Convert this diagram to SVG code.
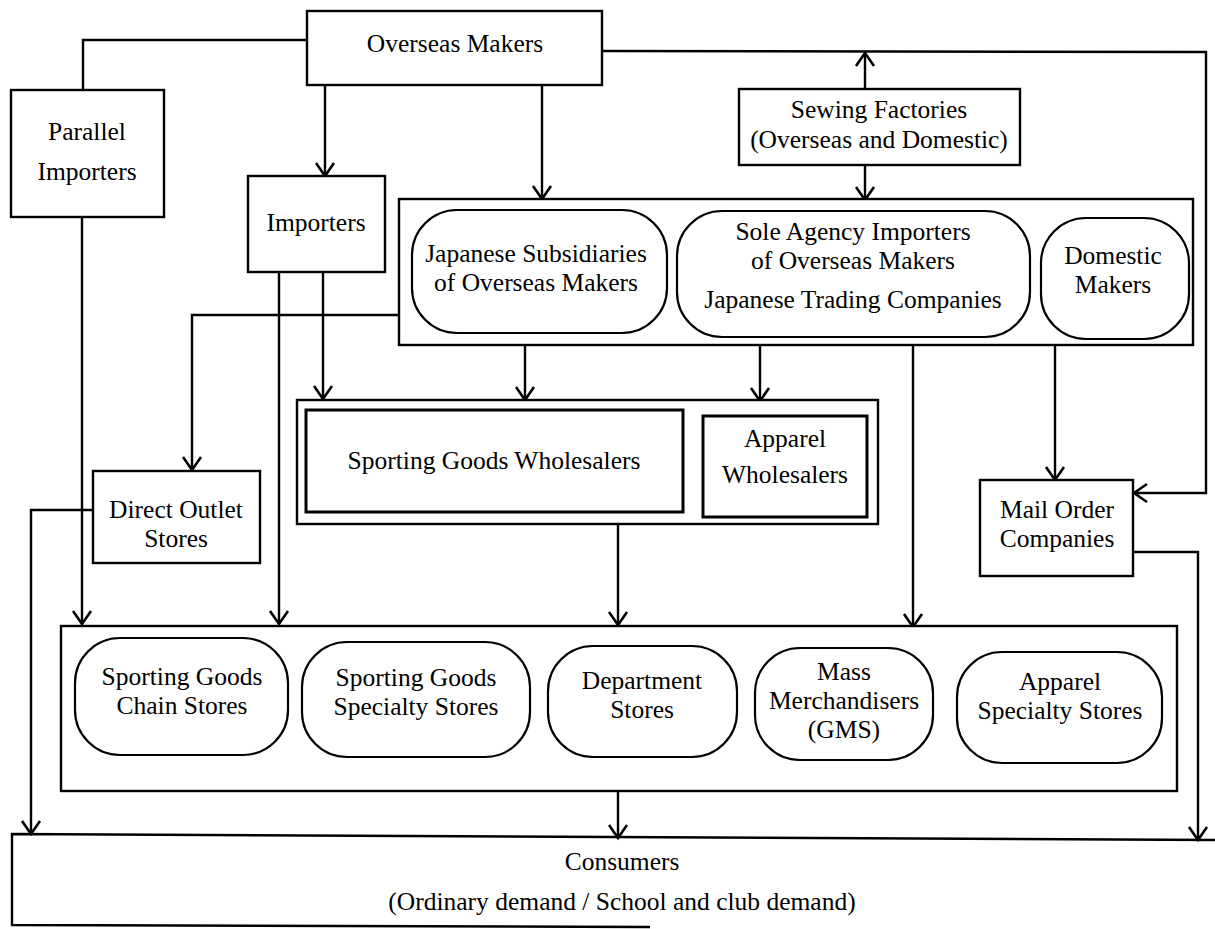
<svg xmlns="http://www.w3.org/2000/svg" width="1215" height="929" viewBox="0 0 1215 929">
<style>
.box{fill:#fff;stroke:#000;stroke-width:2.4}
.rbox{fill:#fff;stroke:#000;stroke-width:2.2}
.t{font-family:"Liberation Serif","Times New Roman",serif;font-size:25.5px;fill:#000;text-anchor:middle}
.c{fill:none;stroke:#000;stroke-width:2.4}
.a{marker-end:url(#arr)}
</style>
<defs>
<marker id="arr" markerUnits="userSpaceOnUse" markerWidth="24" markerHeight="24" refX="14" refY="10" orient="auto" viewBox="0 0 24 20">
<path d="M1,1 L14,10 L1,19" fill="none" stroke="#000" stroke-width="2.6"/>
</marker>
</defs>
<rect width="1215" height="929" fill="#fff"/>

<g id="connectors">
<polyline class="c" points="307,40 83,40 83,90"/>
<line class="c a" x1="82" y1="217" x2="82" y2="624"/>
<line class="c a" x1="325" y1="86" x2="325" y2="176"/>
<line class="c a" x1="542" y1="86" x2="542" y2="199"/>
<polyline class="c a" points="602,51 1206,52 1206,493 1134,493"/>
<line class="c a" x1="865" y1="89" x2="865" y2="53"/>
<line class="c a" x1="865" y1="165" x2="865" y2="200"/>
<line class="c a" x1="279" y1="272" x2="279" y2="624"/>
<line class="c a" x1="323" y1="272" x2="323" y2="399"/>
<polyline class="c a" points="399,315 192,315 192,470"/>
<line class="c a" x1="525" y1="345" x2="525" y2="400"/>
<line class="c a" x1="760" y1="345" x2="760" y2="401"/>
<line class="c a" x1="913" y1="346" x2="913" y2="627"/>
<line class="c a" x1="1055" y1="346" x2="1055" y2="480"/>
<line class="c a" x1="618" y1="524" x2="618" y2="625"/>
<polyline class="c a" points="93,510 31,510 31,834"/>
<polyline class="c a" points="1133,552 1198,552 1198,840"/>
<line class="c a" x1="618" y1="791" x2="618" y2="838"/>
</g>

<g id="overseas-makers">
<rect class="box" x="307" y="11" width="295" height="74"/>
<text class="t" x="455" y="52">Overseas Makers</text>
</g>

<g id="parallel-importers">
<rect class="box" x="11" y="90" width="153" height="127"/>
<text class="t" x="87" y="140">Parallel</text>
<text class="t" x="87" y="180">Importers</text>
</g>

<g id="importers">
<rect class="box" x="248" y="176" width="137" height="96"/>
<text class="t" x="316" y="231">Importers</text>
</g>

<g id="sewing-factories">
<rect class="box" x="739" y="89" width="281" height="76"/>
<text class="t" x="879" y="118">Sewing Factories</text>
<text class="t" x="879" y="148">(Overseas and Domestic)</text>
</g>

<g id="makers-group">
<rect class="box" x="399" y="199" width="794" height="146"/>
</g>

<g id="japanese-subsidiaries">
<rect class="rbox" x="412" y="210" width="255" height="123" rx="45" ry="45"/>
<text class="t" x="536" y="262">Japanese Subsidiaries</text>
<text class="t" x="536" y="291">of Overseas Makers</text>
</g>

<g id="sole-agency">
<rect class="rbox" x="677" y="211" width="353" height="126" rx="45" ry="45"/>
<text class="t" x="853" y="240">Sole Agency Importers</text>
<text class="t" x="853" y="269">of Overseas Makers</text>
<text class="t" x="853" y="308">Japanese Trading Companies</text>
</g>

<g id="domestic-makers">
<rect class="rbox" x="1041" y="218" width="148" height="121" rx="45" ry="45"/>
<text class="t" x="1113" y="264">Domestic</text>
<text class="t" x="1113" y="293">Makers</text>
</g>

<g id="direct-outlet-stores">
<rect class="box" x="93" y="471" width="167" height="92"/>
<text class="t" x="176" y="518">Direct Outlet</text>
<text class="t" x="176" y="547">Stores</text>
</g>

<g id="wholesalers-group">
<rect class="box" x="297" y="400" width="581" height="124"/>
</g>

<g id="sporting-goods-wholesalers">
<rect class="box" x="306" y="410" width="377" height="102" style="stroke-width:3"/>
<text class="t" x="494" y="469">Sporting Goods Wholesalers</text>
</g>

<g id="apparel-wholesalers">
<rect class="box" x="703" y="416" width="164" height="101" style="stroke-width:3"/>
<text class="t" x="785" y="447">Apparel</text>
<text class="t" x="785" y="483">Wholesalers</text>
</g>

<g id="mail-order-companies">
<rect class="box" x="980" y="480" width="153" height="96"/>
<text class="t" x="1057" y="518">Mail Order</text>
<text class="t" x="1057" y="547">Companies</text>
</g>

<g id="retail-group">
<rect class="box" x="61" y="626" width="1116" height="165"/>
</g>

<g id="sporting-goods-chain-stores">
<rect class="rbox" x="75" y="638" width="213" height="117" rx="45" ry="45"/>
<text class="t" x="182" y="685">Sporting Goods</text>
<text class="t" x="182" y="714">Chain Stores</text>
</g>

<g id="sporting-goods-specialty-stores">
<rect class="rbox" x="302" y="642" width="228" height="115" rx="45" ry="45"/>
<text class="t" x="416" y="686">Sporting Goods</text>
<text class="t" x="416" y="715">Specialty Stores</text>
</g>

<g id="department-stores">
<rect class="rbox" x="548" y="646" width="189" height="111" rx="45" ry="45"/>
<text class="t" x="642" y="689">Department</text>
<text class="t" x="642" y="718">Stores</text>
</g>

<g id="mass-merchandisers">
<rect class="rbox" x="755" y="648" width="178" height="112" rx="45" ry="45"/>
<text class="t" x="844" y="680">Mass</text>
<text class="t" x="844" y="709">Merchandisers</text>
<text class="t" x="844" y="738">(GMS)</text>
</g>

<g id="apparel-specialty-stores">
<rect class="rbox" x="957" y="652" width="205" height="111" rx="45" ry="45"/>
<text class="t" x="1060" y="690">Apparel</text>
<text class="t" x="1060" y="719">Specialty Stores</text>
</g>

<g id="consumers">
<path class="c" d="M1215,840 L12,834 L12,925 L650,927"/>
<text class="t" x="622" y="870">Consumers</text>
<text class="t" x="622" y="910">(Ordinary demand / School and club demand)</text>
</g>
</svg>
